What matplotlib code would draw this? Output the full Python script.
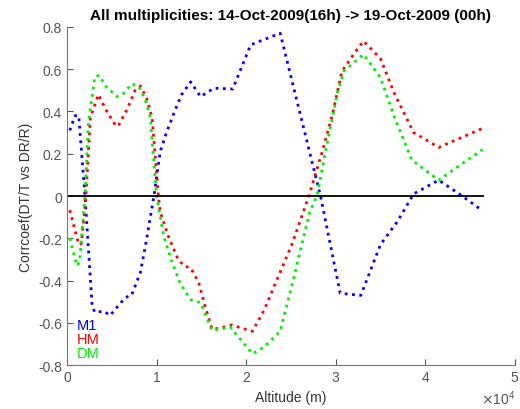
import numpy as np
import matplotlib
matplotlib.use("Agg")
import matplotlib.pyplot as plt
from matplotlib.ticker import ScalarFormatter

plt.rcParams['font.family'] = ['Liberation Sans', 'DejaVu Sans']

# M1
alt_m1 = [300, 900, 1300, 2000, 2800, 3100, 4100, 4800, 5700, 6500, 7200, 8200, 8900, 9700,
          10400, 11100, 12100, 12800, 13800, 14900, 16400, 18500, 20500, 23800,
          28300, 30500, 32800, 35000, 36900, 38700, 41500, 44000, 46400]
corr_m1 = [0.31, 0.38, 0.38, 0.0, -0.52, -0.55, -0.545, -0.565, -0.52, -0.48, -0.47, -0.36, -0.2, 0.0,
           0.21, 0.30, 0.41, 0.48, 0.54, 0.47, 0.51, 0.506, 0.715, 0.77,
           0.0, -0.46, -0.47, -0.23, -0.12, 0.01, 0.075, 0.004, -0.07]

# HM
alt_hm = [300, 1300, 1600, 2100, 2600, 3500, 4300, 5400, 5700, 6700, 7600, 8200, 8900, 9500,
          10200, 10400, 11300, 12300, 13000, 13800, 14700, 15400, 16200, 17100, 18400, 19500,
          20700, 22000, 23600, 25100, 27000, 28500, 29600, 30700, 32000, 33100, 35000, 36500,
          38700, 41500, 46400]
corr_hm = [-0.067, -0.23, -0.225, 0.0, 0.37, 0.48, 0.41, 0.335, 0.33, 0.41, 0.50, 0.52, 0.46, 0.37,
           0.0, -0.075, -0.19, -0.29, -0.33, -0.34, -0.41, -0.52, -0.63, -0.625, -0.61, -0.625,
           -0.64, -0.54, -0.38, -0.23, 0.0, 0.21, 0.38, 0.59, 0.67, 0.733, 0.65, 0.49,
           0.30, 0.23, 0.32]

# DM
alt_dm = [300, 1100, 1400, 2000, 2400, 3100, 3600, 4300, 5600, 6300, 7200, 8000, 8700, 9300,
          10000, 10800, 11700, 12600, 13800, 14900, 16200, 18200, 20700, 22000, 23800, 25300,
          27100, 27900, 29000, 30200, 30900, 33100, 35000, 36500, 38500, 41500, 46400]
corr_dm = [-0.20, -0.33, -0.31, 0.0, 0.35, 0.565, 0.57, 0.52, 0.47, 0.485, 0.53, 0.52, 0.46, 0.37,
           0.0, -0.19, -0.31, -0.41, -0.49, -0.505, -0.636, -0.62, -0.746, -0.715, -0.64, -0.39,
           -0.075, 0.0, 0.24, 0.49, 0.59, 0.67, 0.56, 0.38, 0.17, 0.075, 0.22]

names = ['M1', 'HM', 'DM']
colors = ['#0000ff', '#ff0000', '#00ee00']

fig = plt.figure(figsize=(5.2, 4.1), dpi=100)
ax = fig.add_axes([0.129, 0.107, 0.861, 0.825])

ax.plot(alt_m1, corr_m1, ':', color=colors[0], lw=2)
ax.plot(alt_hm, corr_hm, ':', color=colors[1], lw=2)
ax.plot(alt_dm, corr_dm, ':', color=colors[2], lw=2)
ax.plot([0, alt_m1[-1]], [0, 0], color='black', lw=1.3)

ax.set_xlim(0, 50000)
ax.set_ylim(-0.8, 0.8)
ax.set_xticks([0, 10000, 20000, 30000, 40000, 50000])
ax.set_yticks(np.arange(-0.8, 0.81, 0.2))
ax.set_yticklabels(['-0.8', '-0.6', '-0.4', '-0.2', '0', '0.2', '0.4', '0.6', '0.8'])
fmt = ScalarFormatter(useMathText=True)
fmt.set_powerlimits((0, 0))
ax.xaxis.set_major_formatter(fmt)

for s in ['top', 'right']:
    ax.spines[s].set_visible(False)
for s in ['left', 'bottom']:
    ax.spines[s].set_color('#777777')
ax.tick_params(direction='in', colors='#555555', labelsize=10, length=4)
ax.xaxis.get_offset_text().set_color('#555555')

ax.set_xlabel('Altitude (m)', color='#333333', fontsize=10)
ax.set_ylabel('Corrcoef(DT/T vs DR/R)', color='#333333', fontsize=10)
ax.set_title('All multiplicities: 14-Oct-2009(16h) -> 19-Oct-2009 (00h)',
             fontsize=11, fontweight='bold', pad=6)

for i, (n, c) in enumerate(zip(names, colors)):
    ax.text(0.022, 0.118 - i * 0.041, n, color=c, fontsize=10.5, va='center',
            transform=ax.transAxes)

fig.savefig('out.png', dpi=100)
